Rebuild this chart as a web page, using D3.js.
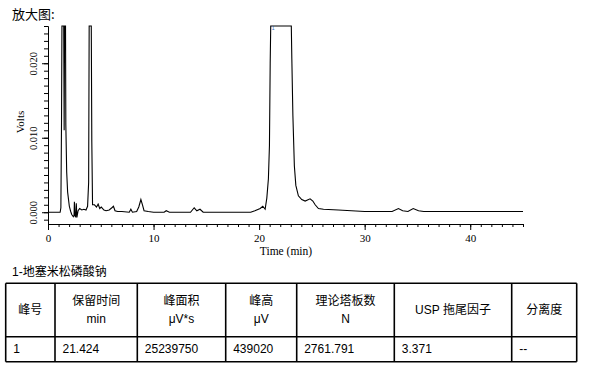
<!DOCTYPE html>
<html>
<head>
<meta charset="utf-8">
<script src="https://cdn.jsdelivr.net/npm/d3@7"></script>
<style>
  body { margin: 0; background: #fff; }
  svg { display: block; }
</style>
</head>
<body>
<svg id="chart" width="592" height="372"></svg>
<script>
// chromatogram trace (min, volts)
const times = [0, 1.15, 1.22, 1.28, 1.32, 1.42, 1.49, 1.53, 1.57, 1.62, 1.66, 1.69, 1.77, 1.86, 2.02, 2.15, 2.25, 2.4, 2.47, 2.5, 2.55, 2.62, 2.68, 2.74, 2.85,
  3.0, 3.2, 3.4, 3.6, 3.75, 3.85, 3.9, 4.0, 4.1, 4.15, 4.22, 4.4, 4.6, 4.75, 4.9, 5.05, 5.3, 5.5, 5.8, 6.05, 6.2, 6.35, 6.6,
  7.0, 7.7, 7.85, 8.0, 8.4, 8.6, 8.8, 8.95, 9.1, 9.5, 10.0, 11.0, 11.2, 11.5, 13.5, 13.85, 14.1, 14.4, 14.7, 19.2, 19.6,
  20.1, 20.35, 20.57, 20.73, 20.88, 20.98, 21.05, 21.1, 21.2, 21.424, 21.8, 22.5, 22.95, 23.05, 23.1, 23.2, 23.34, 23.48,
  23.72, 24.04, 24.36, 24.83, 25.09, 25.31, 25.62, 26.1, 27.5, 30, 32.6, 33.2, 33.6, 34.1, 34.6, 35.1, 35.6, 45];
const volts = [0, 0, 0.0006, 0.012, 0.05, 0.2, 0.03, 0.011, 0.03, 0.08, 0.03, 0.0117, 0.0054, 0.0027, 0.0008, 0.0001, -0.0003, -0.0006, -0.0004, 0.0014, -0.0005, -0.0006, 0.0012, -0.0007, 0.0002,
  0.0005, 0.0003, 0.0004, 0.0003, 0.0008, 0.004, 0.03, 0.15, 0.03, 0.0095, 0.001, 0.001, 0.0007, 0.0011, 0.0005, 0.0007, 0.0003, 0.0002, 0.0003, 0.0006, 0.0008, 0.0002, 0.0001,
  0.0001, 0, 0.0004, 0, 0.0001, 0.0007, 0.0017, 0.001, 0.0002, 0.0001, 0, 0, 0.0002, 0, 0, 0.0006, 0.0002, 0.0004, 0, 0, 0.0002,
  0.0005, 0.0008, 0.0004, 0.0019, 0.0045, 0.009, 0.02, 0.05, 0.15, 0.439, 0.3, 0.15, 0.05, 0.03, 0.0206, 0.013, 0.0062, 0.0036,
  0.0022, 0.0017, 0.0015, 0.0018, 0.0015, 0.001, 0.0005, 0.0004, 0.0003, 0.0001, 0.0001, 0.0005, 0.0002, 0.0001, 0.0005, 0.0002, 0.0001, 0.0001];

const xMajor = [0, 10, 20, 30, 40];
const xMinor = d3.range(0, 46, 1);
const yMajor = [0, 0.010, 0.020];
const yMinor = d3.range(-1, 26, 1).map(d => d / 1000);

const title = "放大图:";
const compound = "1-地塞米松磷酸钠";
const headers = [["峰号"], ["保留时间", "min"], ["峰面积", "μV*s"], ["峰高", "μV"], ["理论塔板数", "N"], ["USP 拖尾因子"], ["分离度"]];
const row = ["1", "21.424", "25239750", "439020", "2761.791", "3.371", "--"];

// layout
const plot = { left: 48, right: 523, top: 26, bottom: 224 };
const colX = [5.7, 55, 137.3, 225.7, 296.7, 394.3, 511.7, 576.7];
const rowY = [283.3, 336.7, 361.7];

const svg = d3.select("#chart");
const serif = "'Liberation Serif', 'Times New Roman', serif";
const cjk = "'Liberation Sans', Arial, 'Noto Sans CJK SC', sans-serif";

const x = d3.scaleLinear().domain([0, 45]).range([plot.left, plot.right]);
const y = d3.scaleLinear().domain([-0.00158, 0.025]).range([plot.bottom, plot.top]).clamp(true);

svg.append("text")
  .attr("x", 12).attr("y", 19)
  .style("font-family", "'Noto Sans CJK SC', sans-serif")
  .style("font-size", "13px")
  .text(title);

// x axis
const gx = svg.append("g").attr("transform", `translate(0,${plot.bottom})`);
gx.append("g").call(d3.axisBottom(x).tickValues(xMinor).tickSize(3).tickSizeOuter(0).tickFormat(""));
gx.append("g").call(d3.axisBottom(x).tickValues(xMajor).tickSize(6).tickSizeOuter(0).tickPadding(4).tickFormat(d3.format("d")));
gx.selectAll(".domain").attr("stroke", "#000");
gx.selectAll(".tick line").attr("stroke", "#000");
gx.selectAll("text")
  .style("font-family", serif).style("font-size", "11px").attr("fill", "#000");

// y axis
const gy = svg.append("g").attr("transform", `translate(${plot.left},0)`);
gy.append("g").call(d3.axisLeft(y).tickValues(yMinor).tickSize(4).tickSizeOuter(0).tickFormat(""));
gy.append("g").call(d3.axisLeft(y).tickValues(yMajor).tickSize(6).tickSizeOuter(0).tickFormat(d3.format(".3f")));
gy.selectAll(".domain").attr("stroke", "#000");
gy.selectAll(".tick line").attr("stroke", "#000");
gy.selectAll("text")
  .attr("transform", "rotate(-90)")
  .attr("x", 0).attr("y", -11).attr("dy", null)
  .attr("text-anchor", "middle")
  .attr("fill", "#000")
  .style("font-family", serif).style("font-size", "10.5px");

// axis titles
svg.append("text")
  .attr("x", 286).attr("y", 255)
  .attr("text-anchor", "middle")
  .style("font-family", serif).style("font-size", "11.5px")
  .text("Time (min)");
svg.append("text")
  .attr("transform", "translate(24,122) rotate(-90)")
  .attr("text-anchor", "middle")
  .style("font-family", serif).style("font-size", "11px")
  .text("Volts");

// trace
const pts = times.map((t, i) => [t, volts[i]]);
svg.append("path")
  .datum(pts)
  .attr("fill", "none")
  .attr("stroke", "#000")
  .attr("stroke-width", 1.1)
  .attr("d", d3.line().x(d => x(d[0])).y(d => y(d[1])));

// peak marker
svg.append("text")
  .attr("x", x(21.2)).attr("y", plot.top + 4)
  .attr("fill", "#2b6cc4")
  .style("font-family", cjk).style("font-size", "5px")
  .text("1");

// table
svg.append("text")
  .attr("x", 12).attr("y", 276)
  .style("font-family", cjk).style("font-size", "12px")
  .text(compound);

const tbl = svg.append("g").attr("stroke", "#000").attr("stroke-width", 1.6);
colX.forEach(cx => tbl.append("line").attr("x1", cx).attr("x2", cx).attr("y1", rowY[0]).attr("y2", rowY[2]));
rowY.forEach(ry => tbl.append("line").attr("x1", colX[0]).attr("x2", colX[colX.length - 1]).attr("y1", ry).attr("y2", ry));

headers.forEach((lines, i) => {
  const cx = (colX[i] + colX[i + 1]) / 2;
  const mid = (rowY[0] + rowY[1]) / 2;
  const lh = 18;
  lines.forEach((s, j) => {
    svg.append("text")
      .attr("x", cx)
      .attr("y", mid + (j - (lines.length - 1) / 2) * lh)
      .attr("dy", "0.35em")
      .attr("text-anchor", "middle")
      .style("font-family", cjk).style("font-size", "12px")
      .text(s);
  });
});

row.forEach((s, i) => {
  svg.append("text")
    .attr("x", colX[i] + 7.5)
    .attr("y", (rowY[1] + rowY[2]) / 2)
    .attr("dy", "0.35em")
    .style("font-family", cjk).style("font-size", "12px")
    .text(s);
});
</script>
</body>
</html>
